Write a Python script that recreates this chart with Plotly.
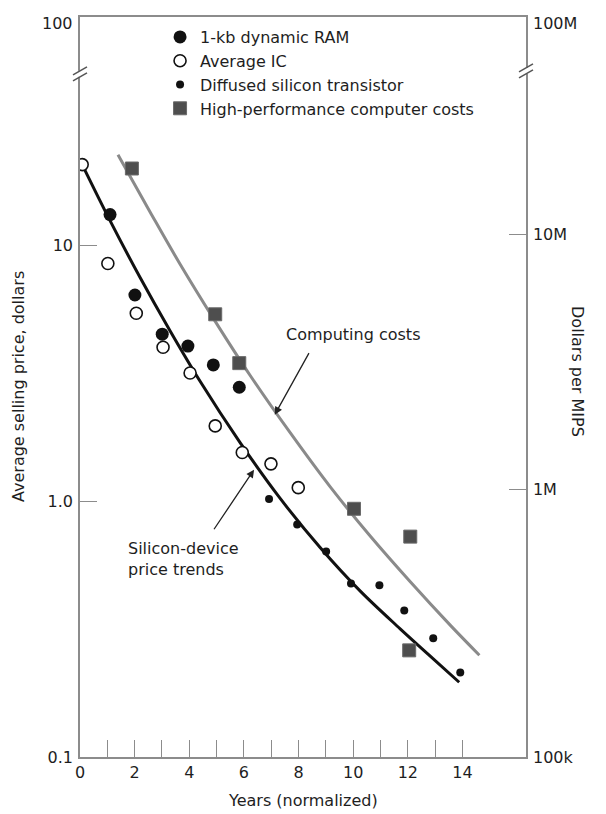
import plotly.graph_objects as go

# ---- data ----
ram_x = [1.10, 2.01, 3.01, 3.95, 4.88, 5.83]
ram_y = [13.2, 6.4, 4.5, 4.04, 3.41, 2.79]

ic_x = [0.08, 1.02, 2.06, 3.04, 4.03, 4.95, 5.94, 6.99, 7.99]
ic_y = [20.7, 8.5, 5.43, 4.0, 3.17, 1.97, 1.55, 1.40, 1.13]

tr_x = [6.92, 7.95, 9.01, 9.92, 10.96, 11.87, 12.93, 13.92]
tr_y = [1.02, 0.81, 0.636, 0.477, 0.469, 0.374, 0.291, 0.214]

comp_x = [1.90, 4.95, 5.83, 10.03, 12.09, 12.05]
comp_y = [18.1e6, 4.85e6, 3.12e6, 0.837e6, 0.651e6, 0.233e6]

# silicon-device price trend curve (left axis, dollars)
si_curve_x = [0.08, 1.10, 2.20, 3.30, 4.39, 5.86, 7.32, 8.79, 10.26, 11.72, 12.82, 13.88]
si_curve_y = [20.7, 12.5, 7.49, 4.63, 2.95, 1.695, 1.028, 0.659, 0.445, 0.317, 0.248, 0.196]

# computing costs curve (right axis, dollars per MIPS)
cc_curve_x = [1.39, 2.57, 3.66, 4.95, 6.23, 7.70, 9.16, 10.63, 12.09, 13.56, 14.62]
cc_curve_y = [20.5e6, 12.2e6, 7.64e6, 4.55e6, 2.79e6, 1.66e6, 1.02e6, 0.653e6, 0.433e6, 0.292e6, 0.223e6]

x_ticks = list(range(0, 15))
x_ticktext = [str(v) if v % 2 == 0 else "" for v in x_ticks]
y_ticks = [0.1, 1, 10]
y_ticktext = ["0.1", "1.0", "10"]
y2_ticks = [1e6, 1e7]
y2_ticktext = ["1M", "10M"]

FONT = "DejaVu Sans, Verdana, sans-serif"
TXT = "#1e1e1e"
AX = "#8c8c8c"
FS = 16

fig = go.Figure()

fig.add_trace(go.Scatter(x=si_curve_x, y=si_curve_y, mode="lines",
                         line=dict(color="#111111", width=3, shape="spline", smoothing=1),
                         showlegend=False, hoverinfo="skip"))
fig.add_trace(go.Scatter(x=cc_curve_x, y=cc_curve_y, mode="lines", yaxis="y2",
                         line=dict(color="#8a8a8a", width=3, shape="spline", smoothing=1),
                         showlegend=False, hoverinfo="skip"))

fig.add_trace(go.Scatter(x=ram_x, y=ram_y, mode="markers", name="1-kb dynamic RAM",
                         legendgroup="a",
                         marker=dict(symbol="circle", size=13, color="#111111",
                                     line=dict(width=0))))
fig.add_trace(go.Scatter(x=ic_x, y=ic_y, mode="markers", name="Average IC",
                         legendgroup="b",
                         marker=dict(symbol="circle", size=12, color="white",
                                     line=dict(width=1.6, color="#111111"))))
fig.add_trace(go.Scatter(x=tr_x, y=tr_y, mode="markers", name="Diffused silicon transistor",
                         legendgroup="c",
                         marker=dict(symbol="circle", size=8, color="#111111",
                                     line=dict(width=0))))
fig.add_trace(go.Scatter(x=comp_x, y=comp_y, mode="markers", yaxis="y2",
                         name="High-performance computer costs", legendgroup="d",
                         marker=dict(symbol="square", size=13, color="#4e4e4e",
                                     line=dict(width=1, color="#6a6a6a"))))

# plot area in screen pixels (page has an 8px body margin): x 80..525.7, y 15..757
OFF = 8
PL, PR, PT, PB = 80, 525.7, 15, 757
W, H = PR - PL, PB - PT


def px(xp):
    return (xp - PL) / W


def py(yp):
    return (PB - yp) / H


shapes = []
# axis break marks
for cx, cy in [(80, 72), (525.7, 69)]:
    shapes.append(dict(type="rect", xref="paper", yref="paper",
                       x0=px(cx - 2), x1=px(cx + 2), y0=py(cy + 3), y1=py(cy - 3),
                       fillcolor="white", line=dict(width=0), layer="above"))
    for dy in (-3, 3):
        shapes.append(dict(type="line", xref="paper", yref="paper",
                           x0=px(cx - 7), y0=py(cy + dy + 4), x1=px(cx + 7), y1=py(cy + dy - 4),
                           line=dict(color="#555555", width=1.5), layer="above"))

annotations = [
    dict(text="100", xref="paper", yref="paper", x=0, y=1, xanchor="right", yanchor="middle",
         xshift=-5, yshift=-6, showarrow=False, font=dict(size=FS, color=TXT, family=FONT)),
    dict(text="100M", xref="paper", yref="paper", x=1, y=1, xanchor="left", yanchor="middle",
         xshift=5, yshift=-6, showarrow=False, font=dict(size=FS, color=TXT, family=FONT)),
    dict(text="100k", xref="paper", yref="paper", x=1, y=0, xanchor="left", yanchor="middle",
         xshift=5, yshift=0, showarrow=False, font=dict(size=FS, color=TXT, family=FONT)),
    dict(text="Years (normalized)", xref="paper", yref="paper", x=0.5, y=0, xanchor="center",
         yanchor="middle", yshift=-43, showarrow=False, font=dict(size=FS, color=TXT, family=FONT)),
    dict(text="Average selling price, dollars", xref="paper", yref="paper", x=0, y=0.5,
         xanchor="center", yanchor="middle", xshift=-62, textangle=-90, showarrow=False,
         font=dict(size=FS, color=TXT, family=FONT)),
    dict(text="Dollars per MIPS", xref="paper", yref="paper", x=1, y=py(370),
         xanchor="center", yanchor="middle", xshift=52, textangle=90, showarrow=False,
         font=dict(size=FS, color=TXT, family=FONT)),
    dict(text="Computing costs", xref="paper", yref="paper", x=px(353), y=py(333),
         xanchor="center", yanchor="middle", showarrow=False,
         font=dict(size=FS, color=TXT, family=FONT)),
    dict(text="", x=7.13, y=6.292, xref="x", yref="y2", ax=35, ay=-63,
         showarrow=True, arrowhead=2, arrowsize=1.2, arrowwidth=1.3, arrowcolor="#222222"),
    dict(text="Silicon-device<br>price trends", xref="paper", yref="paper", x=px(126), y=py(558),
         xanchor="left", yanchor="middle", align="left", showarrow=False,
         font=dict(size=FS, color=TXT, family=FONT)),
    dict(text="", x=6.37, y=0.123, xref="x", yref="y", ax=-41, ay=61,
         showarrow=True, arrowhead=2, arrowsize=1.2, arrowwidth=1.3, arrowcolor="#222222"),
]

fig.update_layout(
    width=606, height=814,
    margin=dict(l=PL - OFF, r=606 + OFF - PR, t=PT - OFF, b=814 + OFF - PB),
    paper_bgcolor="white", plot_bgcolor="white",
    font=dict(family=FONT, color=TXT, size=FS),
    hovermode=False,
    xaxis=dict(range=[0, 16.326], tickvals=x_ticks, ticktext=x_ticktext,
               ticks="inside", ticklen=17, tickwidth=1.3, tickcolor=AX,
               showline=True, linecolor=AX, linewidth=1.5, mirror=True,
               showgrid=False, zeroline=False, tickfont=dict(size=FS, color=TXT)),
    yaxis=dict(type="log", range=[-1, 1.893], tickvals=y_ticks, ticktext=y_ticktext,
               ticks="inside", ticklen=17, tickwidth=1.3, tickcolor=AX,
               showline=True, linecolor=AX, linewidth=1.5,
               showgrid=False, zeroline=False, tickfont=dict(size=FS, color=TXT),
               ticklabelstandoff=2),
    yaxis2=dict(type="log", range=[4.949, 7.852], tickvals=y2_ticks, ticktext=y2_ticktext,
                overlaying="y", side="right",
                ticks="inside", ticklen=17, tickwidth=1.3, tickcolor=AX,
                showline=True, linecolor=AX, linewidth=1.5,
                showgrid=False, zeroline=False, tickfont=dict(size=FS, color=TXT),
                ticklabelstandoff=2),
    legend=dict(x=px(160), y=py(18), xanchor="left", yanchor="top",
                bgcolor="rgba(0,0,0,0)", font=dict(size=FS, color=TXT, family=FONT),
                tracegroupgap=0, itemsizing="trace"),
    shapes=shapes,
    annotations=annotations,
)

fig.write_html("out.html")
